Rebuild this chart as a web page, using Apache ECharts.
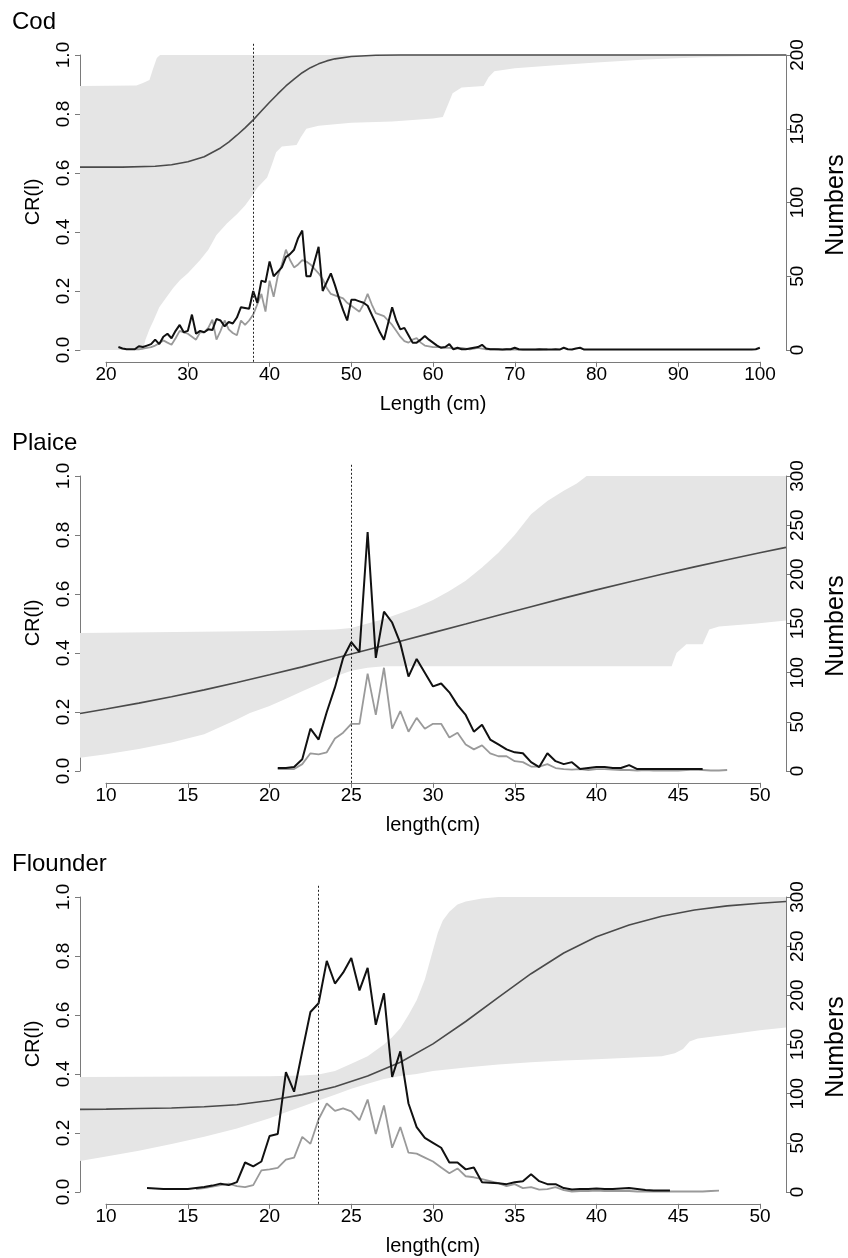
<!DOCTYPE html>
<html>
<head>
<meta charset="utf-8">
<title>CR(l) - Cod, Plaice, Flounder</title>
<script src="https://cdn.jsdelivr.net/npm/echarts@6/dist/echarts.min.js"></script>
<style>
  html, body { margin: 0; padding: 0; background: #fff; }
  #chart { width: 848px; height: 1258px; }
</style>
</head>
<body>
<div id="chart"></div>
<script>
// ---------- Cod ----------
const codCut = 38;
const codUpperLen = [16.8, 23.7, 24.5, 25.3, 25.7, 26.2, 26.6, 103.2];
const codUpper = [0.895, 0.897, 0.905, 0.915, 0.95, 0.99, 1.0, 1.0];
const codLowerLen = [16.8, 24.5, 24.8, 25.3, 25.8, 26.5, 27.4, 28.2, 29.05, 30, 31.5, 32.5, 33.5, 34.8, 36, 37, 37.8, 38.5, 39.7, 40.3, 40.8, 41.5, 43.3, 43.8, 44.5, 46, 50, 55, 60, 61.2, 61.8, 62.4, 63.5, 66.2, 66.8, 67.5, 70, 75, 80, 86, 93, 100, 103.2];
const codLower = [0, 0, 0.034, 0.07, 0.10, 0.145, 0.18, 0.21, 0.237, 0.26, 0.305, 0.34, 0.39, 0.43, 0.46, 0.49, 0.52, 0.55, 0.585, 0.63, 0.67, 0.69, 0.695, 0.72, 0.75, 0.76, 0.77, 0.775, 0.785, 0.79, 0.83, 0.87, 0.89, 0.895, 0.925, 0.945, 0.955, 0.965, 0.975, 0.985, 0.992, 0.997, 1.0];
const codCurveLen = [16.8, 22, 26, 28, 30, 32, 34, 35, 36, 37, 38, 39, 40, 41, 42, 43, 44, 45, 46, 47, 48, 50, 53, 56, 103.2];
const codCurve = [0.62, 0.62, 0.623, 0.628, 0.638, 0.655, 0.685, 0.705, 0.728, 0.753, 0.78, 0.81, 0.84, 0.868, 0.895, 0.918, 0.94, 0.957, 0.97, 0.98, 0.987, 0.995, 0.999, 1.0, 1.0];
// length classes of 0.5 cm, first class given
const codBlackStart = 21.5;
const codBlack = [
  2, 1, 0.5, 0.5, 0.5, 2.5, 2, 3, 4, 7,
  4, 9, 11, 8, 13, 17, 12, 13, 24, 11,
  13, 12, 14, 13.5, 21, 20, 16, 19, 18, 22,
  29, 28.5, 28, 40, 32, 47, 46, 60, 50, 53,
  56, 63, 65, 68, 76, 81, 50, 50, 60, 70,
  40, 46, 52, 44, 35, 27, 20, 34, 34, 33,
  32, 30, 24, 18, 12, 7, 18, 29, 20, 14,
  15, 10, 5, 5, 7, 9.5, 7, 5, 3, 1.5,
  2, 4, 0.5, 1.5, 0.5, 0.5, 1, 1.5, 2, 3.5,
  1, 0.5, 0.5, 0.5, 0.3, 0.5, 0.5, 1.5, 0.5, 0.3,
  0.3, 0.3, 0.3, 0.5, 0.3, 0.3, 0.3, 0.5, 0.3, 1.5,
  0.5, 0.3, 1, 1.5, 0.3, 0.3, 0.3, 0.3, 0.3, 0.3,
  0.3, 0.3, 0.3, 0.3, 0.3, 0.3, 0.3, 0.3, 0.3, 0.3,
  0.3, 0.3, 0.3, 0.3, 0.3, 0.3, 0.3, 0.3, 0.3, 0.3,
  0.3, 0.3, 0.3, 0.3, 0.3, 0.3, 0.3, 0.3, 0.3, 0.3,
  0.3, 0.3, 0.3, 0.3, 0.3, 0.3, 0.5, 1.5
];
const codGrayStart = 23.5;
const codGray = [
  0.5, 0.5, 1, 1.5, 2, 3, 4.5, 6.5, 5, 3.6,
  8, 13, 12, 11, 9, 7, 12, 12, 15, 20.5,
  7, 13, 20, 14, 11.5, 10, 20, 17, 20, 24,
  31, 38, 26, 47, 36, 50, 58, 68, 61, 56,
  58, 61, 60, 58, 55, 52, 48, 42, 38, 37,
  36, 35, 32, 30, 28, 26, 31, 38, 31, 25,
  24, 23, 20, 17, 13, 9, 6, 5, 7, 8,
  5, 3, 2.5, 2, 2, 2, 1.5, 1.5, 1, 1,
  1.5, 1, 0.5, 1, 1.5, 1, 0.5, 0.5, 0.5, 0.3,
  0.3, 0.5, 0.3, 0.5, 0.3, 0.3, 0.3, 0.3, 0.3, 0.3,
  0.5, 0.5
];

// ---------- Plaice ----------
const plaiceCut = 25;
const plaiceUpperLen = [8.4, 20, 24, 25, 26, 27, 28, 29, 30, 31, 32, 33, 34, 35, 36, 37, 38, 38.8, 39.4, 51.6];
const plaiceUpper = [0.468, 0.475, 0.48, 0.485, 0.50, 0.515, 0.535, 0.555, 0.58, 0.61, 0.645, 0.69, 0.74, 0.80, 0.87, 0.915, 0.95, 0.975, 1.0, 1.0];
const plaiceLowerLen = [8.4, 10, 12, 14, 16, 18, 18.8, 20, 21, 22, 23, 24, 25, 26, 27, 44.6, 44.9, 45.5, 46.5, 46.9, 47.5, 49.8, 51.6];
const plaiceLower = [0.045, 0.057, 0.075, 0.097, 0.125, 0.175, 0.197, 0.22, 0.245, 0.27, 0.295, 0.32, 0.34, 0.35, 0.355, 0.355, 0.40, 0.43, 0.43, 0.48, 0.49, 0.50, 0.51];
const plaiceCurveLen = [8.4, 10, 12, 14, 16, 18, 20, 22, 24, 26, 28, 30, 32, 34, 36, 38, 40, 42, 44, 46, 48, 50, 51.6];
const plaiceCurve = [0.195, 0.21, 0.23, 0.252, 0.275, 0.30, 0.326, 0.353, 0.382, 0.411, 0.44, 0.469, 0.498, 0.528, 0.557, 0.586, 0.614, 0.641, 0.667, 0.692, 0.716, 0.74, 0.758];
const plaiceBlackStart = 20.5;
const plaiceBlack = [
  3, 3, 4, 12, 43, 32, 60, 85, 115, 131,
  121, 243, 115, 162, 151, 130, 96, 114, 100, 86,
  89, 80, 67, 57, 40, 47, 32, 27, 22, 19,
  18, 9, 4, 18, 10, 7, 9, 2, 3, 4,
  4, 3, 3, 6, 2, 2, 2, 2, 2, 2,
  2, 2, 2
];
const plaiceGrayStart = 20.5;
const plaiceGray = [
  2, 2, 2, 7, 18, 17, 19, 33, 39, 48,
  48, 99, 57, 105, 43, 61, 40, 54, 43, 48,
  48, 34, 39, 27, 22, 26, 18, 15, 15, 10,
  9, 4.5, 4.5, 7, 3, 2, 1.5, 2, 1, 2,
  2, 1.5, 1, 1, 0.5, 1, 0.5, 0.5, 0.5, 0.5,
  1, 1.5, 1, 0.5, 0.5, 1
];

// ---------- Flounder ----------
const flounderCut = 23;
const flounderUpperLen = [8.4, 20, 22, 23, 24, 25, 26, 27, 27.5, 28, 28.5, 29, 29.5, 30, 30.3, 30.6, 31, 31.5, 32, 33, 34, 51.6];
const flounderUpper = [0.39, 0.392, 0.395, 0.398, 0.41, 0.435, 0.46, 0.50, 0.525, 0.555, 0.60, 0.65, 0.72, 0.82, 0.88, 0.92, 0.95, 0.975, 0.985, 0.995, 1.0, 1.0];
const flounderLowerLen = [8.4, 10, 12, 14, 16, 18, 20, 21, 22, 23, 24, 25, 26, 27, 28, 29, 30, 32, 34, 36, 38, 40, 42, 44, 44.8, 45.3, 45.7, 46.2, 48, 50, 51.6];
const flounderLower = [0.105, 0.12, 0.14, 0.163, 0.187, 0.215, 0.25, 0.27, 0.29, 0.31, 0.33, 0.35, 0.367, 0.383, 0.393, 0.40, 0.41, 0.422, 0.432, 0.44, 0.446, 0.45, 0.455, 0.46, 0.47, 0.485, 0.51, 0.52, 0.533, 0.548, 0.558];
const flounderCurveLen = [8.4, 10, 12, 14, 16, 18, 20, 22, 24, 26, 28, 30, 32, 34, 36, 38, 40, 42, 44, 46, 48, 50, 51.6];
const flounderCurve = [0.28, 0.281, 0.283, 0.285, 0.289, 0.296, 0.31, 0.33, 0.357, 0.393, 0.44, 0.502, 0.578, 0.66, 0.74, 0.81, 0.865, 0.905, 0.935, 0.956, 0.97, 0.979, 0.985];
const flounderBlackStart = 12.5;
const flounderBlack = [
  4, 3.5, 3, 3, 3, 3, 4, 5, 6.5, 8.5,
  7, 10, 30, 26, 31, 57, 59, 122, 102, 143,
  183, 192, 235, 212, 223, 238, 205, 228, 170, 202,
  117, 143, 90, 66, 55, 50, 45, 30, 30, 23,
  25, 10, 9.5, 9, 8, 10, 11, 18, 11, 8,
  8, 4, 2.5, 3, 3, 3.5, 3, 3, 3.5, 4,
  3, 2, 1.5, 1.5, 1.5
];
const flounderGrayStart = 15.5;
const flounderGray = [
  3, 4, 5.5, 7, 8.5, 6, 5, 7, 22, 23,
  24.5, 33, 35, 56, 49, 74, 90, 82.5, 85, 82,
  73, 94, 59, 88, 45, 66, 40, 39, 35, 31,
  25, 19, 24, 16, 15, 13, 11, 9, 6, 8,
  4, 5, 2.5, 3, 5, 2, 0.5, 1, 1, 1.5,
  1, 1, 1, 1, 0.5, 0.5, 0.5, 0.5, 0.5, 0.5,
  0.5, 0.5, 0.5, 1, 1.5
];
const lenStep = 0.5;

const panels = [
  { title: 'Cod', xTitle: 'Length (cm)', xMin: 16.8, xMax: 103.2, tMin: 20, tMax: 100, tStep: 10, nMax: 200, nStep: 50,
    cut: codCut, upLen: codUpperLen, up: codUpper, loLen: codLowerLen, lo: codLower, cLen: codCurveLen, c: codCurve,
    bStart: codBlackStart, b: codBlack, gStart: codGrayStart, g: codGray },
  { title: 'Plaice', xTitle: 'length(cm)', xMin: 8.4, xMax: 51.6, tMin: 10, tMax: 50, tStep: 5, nMax: 300, nStep: 50,
    cut: plaiceCut, upLen: plaiceUpperLen, up: plaiceUpper, loLen: plaiceLowerLen, lo: plaiceLower, cLen: plaiceCurveLen, c: plaiceCurve,
    bStart: plaiceBlackStart, b: plaiceBlack, gStart: plaiceGrayStart, g: plaiceGray },
  { title: 'Flounder', xTitle: 'length(cm)', xMin: 8.4, xMax: 51.6, tMin: 10, tMax: 50, tStep: 5, nMax: 300, nStep: 50,
    cut: flounderCut, upLen: flounderUpperLen, up: flounderUpper, loLen: flounderLowerLen, lo: flounderLower, cLen: flounderCurveLen, c: flounderCurve,
    bStart: flounderBlackStart, b: flounderBlack, gStart: flounderGrayStart, g: flounderGray }
];

// layout (px)
const PANEL_H = 421;
const Y1 = 55;        // y of CR = 1.0 in first panel
const PH = 295;       // px from CR 0 to 1
const EXT = 0.04 * PH;
const AX_COLOR = '#7a7a7a';
const FONT = "'Liberation Sans', Arial, Helvetica, sans-serif";
const TICK_FS = 19;

const grid = [], xAxis = [], yAxis = [], series = [], graphic = [];

const pairs = (xs, ys) => xs.map((x, i) => [x, ys[i]]);
const binned = (start, ys) => ys.map((y, i) => [start + i * lenStep, y]);

panels.forEach((p, k) => {
  const off = k * PANEL_H;
  grid.push({ left: 80, top: Y1 + off, width: 706, height: PH });
  grid.push({ left: 106, top: Y1 + off - EXT, width: 654, height: PH + 2 * EXT });

  xAxis.push({ gridIndex: 2 * k, type: 'value', min: p.xMin, max: p.xMax, show: false });
  xAxis.push({
    gridIndex: 2 * k + 1, type: 'value', min: p.tMin, max: p.tMax, interval: p.tStep, position: 'bottom',
    axisLine: { show: true, onZero: false, lineStyle: { color: AX_COLOR, width: 1 } },
    axisTick: { show: true, length: 5, lineStyle: { color: AX_COLOR } },
    axisLabel: { margin: 3, fontSize: TICK_FS, color: '#000', fontFamily: FONT, hideOverlap: false },
    splitLine: { show: false }
  });

  yAxis.push({
    gridIndex: 2 * k, type: 'value', min: 0, max: 1, interval: 0.2, position: 'left',
    axisLine: { show: true, onZero: false, lineStyle: { color: AX_COLOR, width: 1 } },
    axisTick: { show: true, length: 5, lineStyle: { color: AX_COLOR } },
    axisLabel: { rotate: 90, margin: 7, fontSize: TICK_FS, color: '#000', fontFamily: FONT, formatter: v => v.toFixed(1) },
    splitLine: { show: false }
  });
  yAxis.push({
    gridIndex: 2 * k, type: 'value', min: 0, max: p.nMax, interval: p.nStep, position: 'right',
    axisLine: { show: true, onZero: false, lineStyle: { color: AX_COLOR, width: 1 } },
    axisTick: { show: true, length: 5, lineStyle: { color: AX_COLOR } },
    axisLabel: { rotate: 90, margin: 2, fontSize: TICK_FS, color: '#000', fontFamily: FONT },
    splitLine: { show: false }
  });
  yAxis.push({ gridIndex: 2 * k + 1, type: 'value', min: -0.04, max: 1.04, show: false });

  const poly = pairs(p.upLen, p.up).concat(pairs(p.loLen, p.lo).reverse());
  series.push({
    type: 'custom', xAxisIndex: 2 * k, yAxisIndex: 3 * k, silent: true,
    data: poly, encode: { x: 0, y: 1 },
    renderItem: (params, api) => {
      if (params.dataIndex !== 0) return null;
      return { type: 'polygon', shape: { points: poly.map(pt => api.coord(pt)) }, style: { fill: '#e5e5e5' } };
    }
  });
  series.push({
    type: 'line', xAxisIndex: 2 * k, yAxisIndex: 3 * k, data: pairs(p.cLen, p.c), showSymbol: false, clip: false,
    lineStyle: { color: '#4a4a4a', width: 1.6 }, silent: true
  });
  series.push({
    type: 'line', xAxisIndex: 2 * k, yAxisIndex: 3 * k + 1, data: binned(p.gStart, p.g), showSymbol: false, clip: false,
    lineStyle: { color: '#9a9a9a', width: 1.8 }, silent: true
  });
  series.push({
    type: 'line', xAxisIndex: 2 * k, yAxisIndex: 3 * k + 1, data: binned(p.bStart, p.b), showSymbol: false, clip: false,
    lineStyle: { color: '#111', width: 2 }, silent: true
  });
  series.push({
    type: 'line', xAxisIndex: 2 * k + 1, yAxisIndex: 3 * k + 2, data: [], silent: true,
    markLine: {
      silent: true, symbol: 'none', label: { show: false },
      lineStyle: { color: '#222', width: 1, type: [2, 2] },
      data: [{ xAxis: p.cut }]
    }
  });

  // titles
  graphic.push({ type: 'text', x: 12, y: 22 + off, style: { text: p.title, font: '24px ' + FONT, fill: '#000', align: 'left', verticalAlign: 'middle', textAlign: 'left', textVerticalAlign: 'middle' } });
  graphic.push({ type: 'text', x: 33, y: 202 + off, rotation: Math.PI / 2, style: { text: 'CR(l)', font: '20px ' + FONT, fill: '#000', align: 'center', verticalAlign: 'middle', textAlign: 'center', textVerticalAlign: 'middle' } });
  graphic.push({ type: 'text', x: 836, y: 205 + off, rotation: Math.PI / 2, style: { text: 'Numbers', font: '25px ' + FONT, fill: '#000', align: 'center', verticalAlign: 'middle', textAlign: 'center', textVerticalAlign: 'middle' } });
  graphic.push({ type: 'text', x: 433, y: 404 + off, style: { text: p.xTitle, font: '20px ' + FONT, fill: '#000', align: 'center', verticalAlign: 'middle', textAlign: 'center', textVerticalAlign: 'middle' } });
});

const chart = echarts.init(document.getElementById('chart'), null, { renderer: 'canvas' });
chart.setOption({
  animation: false,
  backgroundColor: '#fff',
  grid, xAxis, yAxis, series, graphic
});
</script>
</body>
</html>
